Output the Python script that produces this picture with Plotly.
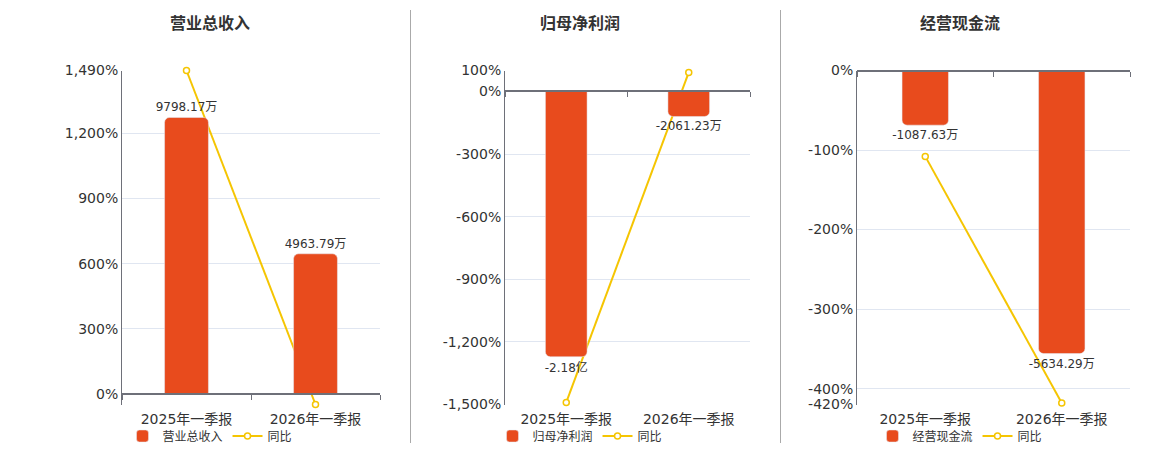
import plotly.graph_objects as go

# ---- data (values in 万元, growth in %) ----
categories = ["2025年一季报", "2026年一季报"]

revenue = [9798.17, 4963.79]
revenue_labels = ["9798.17万", "4963.79万"]
revenue_yoy = [1490.0, -49.34]

profit = [-21800.0, -2061.23]
profit_labels = ["-2.18亿", "-2061.23万"]
profit_yoy = [-1490.0, 90.54]

cashflow = [-1087.63, -5634.29]
cashflow_labels = ["-1087.63万", "-5634.29万"]
cashflow_yoy = [-108.0, -418.03]

titles = ["营业总收入", "归母净利润", "经营现金流"]
pct_ranges = [(-49.34, 1490), (-1500, 100), (-420, 0)]
pct_ticks = [
    [-49.34, 0, 300, 600, 900, 1200, 1490],
    [-1500, -1200, -900, -600, -300, 0, 100],
    [-420, -400, -300, -200, -100, 0],
]
hidden_ticks = [[-49.34], [], []]

BAR_COLOR = "#E84B1D"
LINE_COLOR = "#F5C502"
AXIS_COLOR = "#6E7079"
GRID_COLOR = "#E0E6F1"
TEXT_COLOR = "#333333"
FONT = "DejaVu Sans, Noto Sans CJK SC, sans-serif"

# the page puts the plot 8px in from the top-left corner of the window
OFF = 8
W, H = 1160 - OFF, 450 - OFF


def px_x(x):
    return (x - OFF) / W


def px_y(y):
    return 1 - (y - OFF) / H


# plot areas in window pixels (left, right)
panels_px = [(122, 380), (505, 750), (857, 1130)]
top_px, bottom_px = 70.5, 404.5
center_x_px = [210, 580, 960]

ydom = [px_y(bottom_px), px_y(top_px)]

fig = go.Figure()

series = [
    (revenue, revenue_labels, revenue_yoy),
    (profit, profit_labels, profit_yoy),
    (cashflow, cashflow_labels, cashflow_yoy),
]

layout = {}
for i, ((bars, labels, yoy), (pmin, pmax)) in enumerate(zip(series, pct_ranges)):
    k = i + 1
    xa, ya = f"x{2*i+1}", f"y{2*i+1}"        # label axis / pct axis
    xb, yb = f"x{2*i+2}", f"y{2*i+2}"        # zero axis / bar axis
    xdom = [px_x(panels_px[i][0]), px_x(panels_px[i][1])]

    # bar axis range, zero aligned with pct axis
    if max(bars) > 0:
        hi = max(bars) * 1.17
        lo = hi * pmin / pmax
    else:
        lo = min(bars) * 1.18
        hi = lo * pmax / pmin
    zero_frac = -pmin / (pmax - pmin)
    zero_pos = ydom[0] + zero_frac * (ydom[1] - ydom[0])

    legend_name = "legend" if i == 0 else f"legend{k}"

    fig.add_trace(go.Bar(
        x=categories, y=bars, name=titles[i],
        xaxis=xb, yaxis=yb,
        marker=dict(color=BAR_COLOR, cornerradius=5),
        width=0.34,
        text=labels, textposition="outside", constraintext="none",
        textfont=dict(size=12, color=TEXT_COLOR, family=FONT),
        cliponaxis=False, legend=legend_name,
    ))
    fig.add_trace(go.Scatter(
        x=categories, y=yoy, name="同比",
        xaxis=xa, yaxis=ya, mode="lines+markers",
        line=dict(color=LINE_COLOR, width=2),
        marker=dict(size=6, color="white", line=dict(color=LINE_COLOR, width=1.5)),
        cliponaxis=False, legend=legend_name,
    ))

    tv = pct_ticks[i]
    tt = ["" if v in hidden_ticks[i] else f"{v:,.0f}%" for v in tv]

    layout[f"xaxis{2*i+1}"] = dict(
        domain=xdom, anchor=ya, type="category", range=[-0.5, 1.5],
        showline=False, showgrid=False, ticks="outside", ticklen=2,
        tickcolor="rgba(0,0,0,0)",
        tickfont=dict(size=14, color=TEXT_COLOR, family=FONT),
    )
    layout[f"yaxis{2*i+1}"] = dict(
        domain=ydom, anchor=xa, range=[pmin, pmax],
        tickvals=tv, ticktext=tt, showline=True, linecolor=AXIS_COLOR,
        linewidth=1, gridcolor=GRID_COLOR, gridwidth=1, zeroline=False,
        ticks="", tickfont=dict(size=14, color=TEXT_COLOR, family=FONT),
    )
    layout[f"xaxis{2*i+2}"] = dict(
        overlaying=xa, anchor="free", position=zero_pos, side="bottom",
        type="category", range=[-0.5, 1.5], tickson="boundaries",
        showline=True, linecolor=AXIS_COLOR, linewidth=2,
        ticks="outside", ticklen=5, tickcolor=AXIS_COLOR, tickwidth=1,
        showticklabels=False, showgrid=False,
    )
    layout[f"yaxis{2*i+2}"] = dict(
        overlaying=ya, anchor=xb, range=[lo, hi], visible=False,
        showgrid=False, zeroline=False,
    )
    layout[legend_name] = dict(
        x=px_x(center_x_px[i]), y=px_y(436),
        xanchor="center", yanchor="middle", orientation="h",
        font=dict(size=12, color=TEXT_COLOR, family=FONT),
        bgcolor="rgba(0,0,0,0)", itemwidth=30,
    )

fig.update_layout(**layout)

for i, t in enumerate(titles):
    fig.add_annotation(
        x=px_x(center_x_px[i]), y=px_y(22), xref="paper", yref="paper",
        xanchor="center", yanchor="middle", text=f"<b>{t}</b>", showarrow=False,
        font=dict(size=16, color=TEXT_COLOR, family="Noto Sans CJK SC, sans-serif"),
    )

for sx in [410.5, 780.5]:
    fig.add_shape(type="line", xref="paper", yref="paper",
                  x0=px_x(sx), x1=px_x(sx), y0=px_y(443), y1=px_y(10),
                  line=dict(color="#AAAAAA", width=1))

fig.update_layout(
    width=W, height=H,
    margin=dict(l=0, r=0, t=0, b=0, pad=0, autoexpand=False),
    paper_bgcolor="white", plot_bgcolor="white",
    bargap=0.66, showlegend=True,
    font=dict(family=FONT, color=TEXT_COLOR),
)

fig.write_html("out.html")
